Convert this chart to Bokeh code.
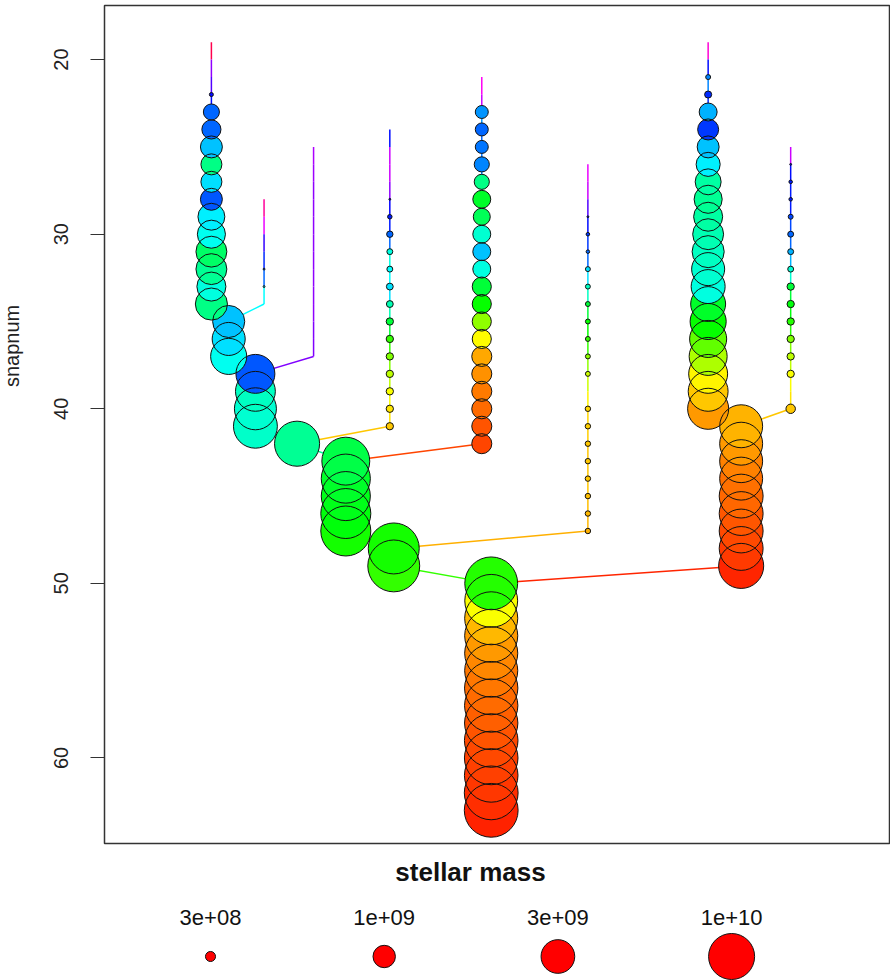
import colorsys
import math
from bokeh.plotting import figure
from bokeh.models import Range1d, FixedTicker, ColumnDataSource
from bokeh.layouts import column, row
from bokeh.core.properties import value
from bokeh.embed import file_html
from bokeh.resources import INLINE

# ---------------- data: merger tree branches ----------------
# each branch: layout position (tree x), first snapnum, log10 stellar mass per snap,
# colour index (rainbow hue fraction) per snap, descendant branch
G_x, G_snap0 = 13.6, 19
G_logm = [7.80, 7.85, 7.90, 8.22, 8.73, 8.86, 8.98, 8.94, 8.94, 8.98, 9.19, 9.24, 9.36, 9.36, 9.28, 9.41]
G_hue = [0.95, 0.76, 0.72, 0.66, 0.60, 0.60, 0.54, 0.42, 0.52, 0.61, 0.51, 0.49, 0.40, 0.43, 0.48, 0.42]

S263_x, S263_snap0 = 20.3, 28
S263_logm = [7.90, 7.90, 7.90, 7.90, 8.13, 8.13, 7.95]
S263_hue = [0.90, 0.82, 0.70, 0.64, 0.60, 0.50, 0.50]

F_x, F_snap0 = 15.8, 35
F_logm = [9.41, 9.45, 9.58]
F_hue = [0.54, 0.52, 0.49]

S313_x, S313_snap0 = 26.6, 25
S313_logm = [7.90, 7.90, 7.90, 7.90, 7.90, 7.90, 7.90, 7.90, 7.90, 7.90, 7.90, 7.90, 7.90]
S313_hue = [0.78, 0.77, 0.76, 0.76, 0.76, 0.76, 0.76, 0.76, 0.76, 0.76, 0.75, 0.75, 0.75]

E_x, E_snap0 = 19.2, 38
E_logm = [9.70, 9.74, 9.83, 9.91]
E_hue = [0.61, 0.46, 0.47, 0.465]

S389_x, S389_snap0 = 36.3, 24
S389_logm = [7.90, 7.90, 7.90, 7.90, 8.13, 8.24, 8.32, 8.30, 8.30, 8.34, 8.34, 8.36, 8.36, 8.36, 8.36, 8.36, 8.36, 8.36]
S389_hue = [0.66, 0.80, 0.80, 0.76, 0.67, 0.65, 0.60, 0.48, 0.50, 0.52, 0.45, 0.37, 0.30, 0.25, 0.21, 0.17, 0.15, 0.13]

D_x, D_snap0 = 24.5, 42
D_logm = [9.96]
D_hue = [0.43]

S481_x, S481_snap0 = 48.0, 21
S481_logm = [7.80, 7.90, 8.60, 8.60, 8.60, 8.69, 8.69, 8.81, 8.77, 8.81, 8.81, 8.81, 8.86, 8.86, 8.86, 8.86, 8.90, 8.90, 8.90, 8.90, 8.90, 8.90]
S481_hue = [0.84, 0.80, 0.57, 0.60, 0.59, 0.58, 0.42, 0.36, 0.39, 0.47, 0.54, 0.48, 0.37, 0.33, 0.24, 0.165, 0.11, 0.095, 0.08, 0.07, 0.055, 0.045]

C_x, C_snap0 = 30.7, 43
C_logm = [10.08, 10.13, 10.13, 10.17, 10.17]
C_hue = [0.38, 0.36, 0.35, 0.34, 0.32]

S587_x, S587_snap0 = 61.5, 26
S587_logm = [7.90, 7.90, 7.90, 8.13, 8.20, 8.20, 8.26, 8.26, 8.26, 8.26, 8.26, 8.26, 8.26, 7.90, 8.28, 8.28, 8.28, 8.28, 8.28, 8.28, 8.28, 8.28]
S587_hue = [0.82, 0.80, 0.72, 0.66, 0.63, 0.60, 0.52, 0.46, 0.37, 0.33, 0.30, 0.24, 0.20, 0.16, 0.14, 0.135, 0.13, 0.13, 0.13, 0.125, 0.12, 0.115]

B_x, B_snap0 = 36.8, 48
B_logm = [10.21, 10.25]
B_hue = [0.32, 0.30]

R2_x, R2_snap0 = 76.8, 19
R2_logm = [7.80, 7.90, 8.26, 8.35, 8.81, 8.94, 8.98, 9.07, 9.15, 9.24, 9.28, 9.36, 9.41, 9.45, 9.49, 9.53, 9.58, 9.62, 9.66, 9.70, 9.74, 9.79]
R2_hue = [0.86, 0.66, 0.58, 0.64, 0.55, 0.63, 0.54, 0.51, 0.44, 0.43, 0.44, 0.45, 0.46, 0.47, 0.48, 0.36, 0.33, 0.27, 0.22, 0.16, 0.13, 0.10]

S789_x, S789_snap0 = 87.3, 25
S789_logm = [7.90, 8.13, 8.20, 8.20, 8.26, 8.30, 8.30, 8.30, 8.36, 8.36, 8.36, 8.36, 8.36, 8.36, 7.90, 8.45]
S789_hue = [0.80, 0.66, 0.65, 0.65, 0.62, 0.60, 0.55, 0.47, 0.37, 0.34, 0.31, 0.25, 0.21, 0.17, 0.15, 0.13]

R1_x, R1_snap0 = 81.0, 41
R1_logm = [9.87, 9.87, 9.87, 9.87, 9.91, 9.91, 9.91, 9.91, 9.96]
R1_hue = [0.117, 0.10, 0.084, 0.073, 0.067, 0.056, 0.048, 0.038, 0.024]

MAIN_x, MAIN_snap0 = 49.2, 50
MAIN_logm = [10.29, 10.29, 10.30, 10.30, 10.30, 10.30, 10.31, 10.31, 10.31, 10.32, 10.32, 10.32, 10.33, 10.33]
MAIN_hue = [0.31, 0.17, 0.12, 0.10, 0.088, 0.078, 0.07, 0.062, 0.055, 0.048, 0.042, 0.036, 0.03, 0.022]

# name, x, first snap, logm, hue, descendant branch
BRANCHES = [
    ("G", G_x, G_snap0, G_logm, G_hue, "F"),
    ("S263", S263_x, S263_snap0, S263_logm, S263_hue, "F"),
    ("F", F_x, F_snap0, F_logm, F_hue, "E"),
    ("S313", S313_x, S313_snap0, S313_logm, S313_hue, "E"),
    ("E", E_x, E_snap0, E_logm, E_hue, "D"),
    ("S389", S389_x, S389_snap0, S389_logm, S389_hue, "D"),
    ("D", D_x, D_snap0, D_logm, D_hue, "C"),
    ("S481", S481_x, S481_snap0, S481_logm, S481_hue, "C"),
    ("C", C_x, C_snap0, C_logm, C_hue, "B"),
    ("S587", S587_x, S587_snap0, S587_logm, S587_hue, "B"),
    ("B", B_x, B_snap0, B_logm, B_hue, "MAIN"),
    ("R2", R2_x, R2_snap0, R2_logm, R2_hue, "R1"),
    ("S789", S789_x, S789_snap0, S789_logm, S789_hue, "R1"),
    ("R1", R1_x, R1_snap0, R1_logm, R1_hue, "MAIN"),
    ("MAIN", MAIN_x, MAIN_snap0, MAIN_logm, MAIN_hue, None),
]

LEGEND_MASS = [3e8, 1e9, 3e9, 1e10]
LEGEND_LABELS = ["3e+08", "1e+09", "3e+09", "1e+10"]
Y_TICKS = [20, 30, 40, 50, 60]
Y_TITLE = "snapnum"


def rainbow(h):
    r, g, b = colorsys.hsv_to_rgb(h % 1.0, 1.0, 1.0)
    return "#%02x%02x%02x" % (int(round(r * 255)), int(round(g * 255)), int(round(b * 255)))


def diam(logm):
    return 23.6 * (logm - 8.05)


first_node = {b[0]: (b[1], b[2]) for b in BRANCHES}

seg = dict(x0=[], y0=[], x1=[], y1=[], c=[])
nodes = dict(x=[], y=[], d=[], c=[])
for name, bx, s0, lm, hue, desc in BRANCHES:
    n = len(lm)
    for i in range(n):
        s = s0 + i
        if i < n - 1:
            seg["x0"].append(bx); seg["y0"].append(s)
            seg["x1"].append(bx); seg["y1"].append(s + 1)
            seg["c"].append(rainbow(hue[i]))
        d = diam(lm[i])
        if d > 1.0:
            nodes["x"].append(bx); nodes["y"].append(s)
            nodes["d"].append(d); nodes["c"].append(rainbow(hue[i]))
    if desc is not None:
        dx, ds = first_node[desc]
        seg["x0"].append(bx); seg["y0"].append(s0 + n - 1)
        seg["x1"].append(dx); seg["y1"].append(ds)
        seg["c"].append(rainbow(hue[-1]))

# earlier snapshots drawn on top
order = sorted(range(len(nodes["y"])), key=lambda k: -nodes["y"][k])
nodes = {k: [v[i] for i in order] for k, v in nodes.items()}

LEFT_W = 30

p = figure(width=890 - LEFT_W, height=848, x_range=Range1d(0, 100), y_range=Range1d(64.9, 16.9),
           output_backend="svg", toolbar_location=None, x_axis_location=None,
           min_border_left=104 - LEFT_W, min_border_right=0, min_border_top=5, min_border_bottom=5)
p.grid.visible = False
p.outline_line_color = "#333333"
p.outline_line_width = 1.5
p.background_fill_color = "white"
p.border_fill_color = "white"

ax = p.yaxis[0]
ax.ticker = FixedTicker(ticks=Y_TICKS)
ax.minor_tick_line_color = None
ax.major_tick_out = 14
ax.major_tick_in = 0
ax.major_tick_line_color = "#333333"
ax.axis_line_color = "#333333"
ax.major_label_orientation = "vertical"
ax.major_label_text_font = "Liberation Sans"
ax.major_label_text_font_size = "20px"
ax.major_label_text_color = "#222222"
ax.major_label_standoff = 22

p.segment("x0", "y0", "x1", "y1", source=ColumnDataSource(seg), line_color="c", line_width=1.5)
src = ColumnDataSource(nodes)
p.scatter("x", "y", size="d", source=src, fill_color="c", line_color=None)
p.scatter("x", "y", size="d", source=src, fill_color=None, line_color="#111111", line_width=1)

# ---------------- y-axis title strip (placed as in the reference, above frame centre) ----------------
t = figure(width=LEFT_W, height=848, x_range=Range1d(0, LEFT_W), y_range=Range1d(64.9, 16.9),
           output_backend="svg", toolbar_location=None, x_axis_location=None, y_axis_location=None,
           min_border_left=0, min_border_right=0, min_border_top=5, min_border_bottom=5)
t.grid.visible = False
t.outline_line_color = None
t.text(x=[11], y=[36.4], text=[Y_TITLE], angle=math.pi / 2, text_align="center", text_baseline="middle",
       text_font=value("Liberation Sans"), text_font_size="20px", text_color="#222222")

# ---------------- legend (x in page pixels; frame aligned to main plot 104..890) ----------------
q = figure(width=890 - LEFT_W, height=132, x_range=Range1d(104, 890), y_range=Range1d(132, 0),
           output_backend="svg", toolbar_location=None, x_axis_location=None, y_axis_location=None,
           min_border_left=104 - LEFT_W, min_border_right=0, min_border_top=0, min_border_bottom=0)
q.grid.visible = False
q.outline_line_color = None
q.text(x=[470], y=[23], text=["stellar mass"], text_align="center", text_baseline="middle",
       text_font=value("Liberation Sans"), text_font_style="bold", text_font_size="26px", text_color="#111111")
lx = [210 + 173.7 * i for i in range(len(LEGEND_MASS))]
q.text(x=lx, y=[69] * len(lx), text=LEGEND_LABELS, text_align="center", text_baseline="middle",
       text_font=value("Liberation Sans"), text_font_size="22px", text_color="#111111")
q.scatter(x=lx, y=[108] * len(lx), size=[diam(math.log10(m)) for m in LEGEND_MASS],
          fill_color="red", line_color="#111111", line_width=1)

layout = row(t, column(p, q, spacing=0), spacing=0)
open("out.html", "w").write(file_html(layout, INLINE))
